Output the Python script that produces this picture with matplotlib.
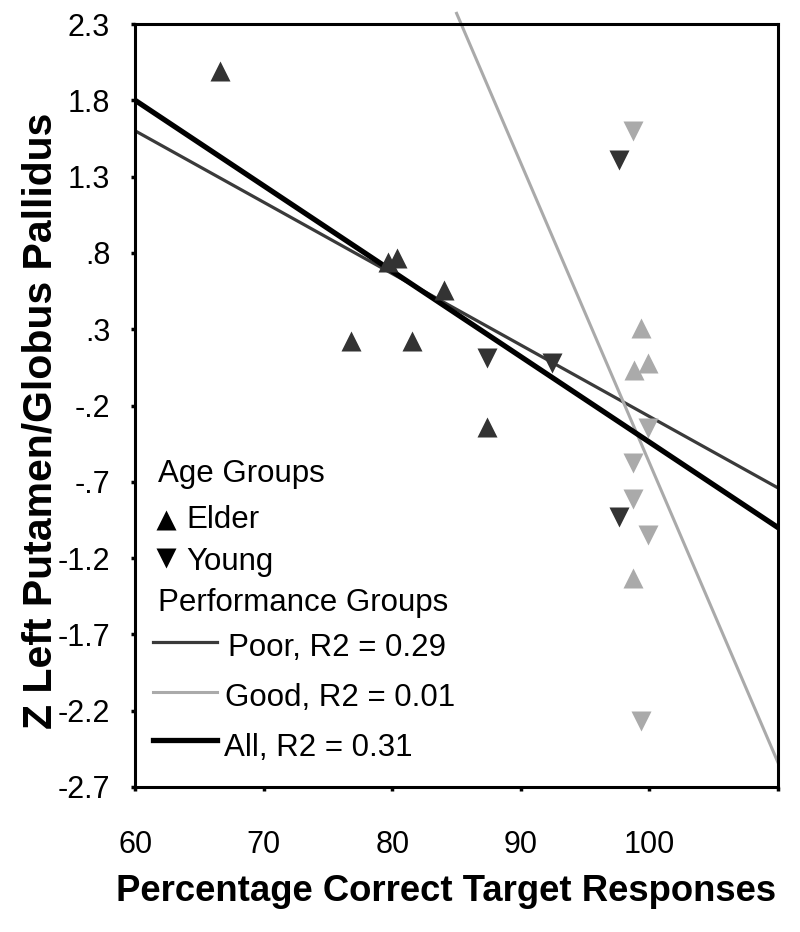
import numpy as np
import matplotlib
matplotlib.use('Agg')
import matplotlib.pyplot as plt

plt.rcParams['font.family'] = ['Liberation Sans', 'DejaVu Sans']

DARK = '#333333'
LIGHT = '#aaaaaa'

# poor performers (dark)
elder_poor_x = [66.6, 79.7, 80.4, 84.0, 76.8, 81.5, 87.4]
elder_poor_y = [1.99, 0.74, 0.77, 0.56, 0.22, 0.22, -0.34]
young_poor_x = [87.4, 92.4, 97.6, 97.6]
young_poor_y = [0.11, 0.08, 1.41, -0.93]

# good performers (light)
elder_good_x = [99.35, 98.8, 99.9, 98.7]
elder_good_y = [0.31, 0.03, 0.08, -1.33]
young_good_x = [98.7, 99.9, 98.7, 98.7, 99.9, 99.35]
young_good_y = [1.60, -0.35, -0.58, -0.81, -1.05, -2.27]

# regression lines (end points)
poor_x = [60, 110]
poor_y = [1.60, -0.74]
good_x = [85.0, 110]
good_y = [2.37, -2.54]
all_x = [60, 110]
all_y = [1.80, -1.00]

y_ticks = [2.3, 1.8, 1.3, 0.8, 0.3, -0.2, -0.7, -1.2, -1.7, -2.2, -2.7]
y_labels = ['2.3', '1.8', '1.3', '.8', '.3', '-.2', '-.7', '-1.2', '-1.7', '-2.2', '-2.7']
x_ticks = [60, 70, 80, 90, 100, 110]
x_labels = ['60', '70', '80', '90', '100', '']

fig = plt.figure(figsize=(8, 9.32), dpi=100)
ax = fig.add_axes([0.169, 0.1556, 0.8035, 0.8186])

ax.plot(poor_x, poor_y, color='#3a3a3a', lw=2.3, zorder=2)
ax.plot(good_x, good_y, color=LIGHT, lw=2.2, zorder=2, clip_on=False)
ax.plot(all_x, all_y, color='black', lw=3.8, zorder=2)

ms = 15
ax.plot(elder_poor_x, elder_poor_y, '^', color=DARK, ms=ms, mec='none', zorder=3)
ax.plot(young_poor_x, young_poor_y, 'v', color=DARK, ms=ms, mec='none', zorder=3)
ax.plot(elder_good_x, elder_good_y, '^', color=LIGHT, ms=ms, mec='none', zorder=3)
ax.plot(young_good_x, young_good_y, 'v', color=LIGHT, ms=ms, mec='none', zorder=3)

ax.set_xlim(60, 110)
ax.set_ylim(-2.7, 2.3)
ax.set_xticks(x_ticks)
ax.set_xticklabels(x_labels)
ax.set_yticks(y_ticks)
ax.set_yticklabels(y_labels)
ax.tick_params(axis='both', direction='out', length=3, width=2.5, labelsize=22)
ax.tick_params(axis='x', pad=28)
ax.tick_params(axis='y', pad=15)
for s in ax.spines.values():
    s.set_linewidth(2.2)


# hand-made legend in axes fraction
def fx(px):
    return (px - 135) / (778 - 135)


def fy(py):
    return (787 - py) / (787 - 24)


ax.set_xlabel('Percentage Correct Target Responses', fontsize=26.3,
              fontweight='bold', va='center')
ax.xaxis.set_label_coords(fx(446), fy(892))
ax.set_ylabel('Z Left Putamen/Globus Pallidus', fontsize=29.5,
              fontweight='bold', va='center')
ax.yaxis.set_label_coords(fx(40), fy(421))

fs = 22.5
t = ax.transAxes
ax.text(fx(158), fy(474), 'Age Groups', transform=t, fontsize=fs, va='center')
ax.plot([fx(166)], [fy(520)], '^', color='black', ms=14, mec='none', transform=t)
ax.text(fx(186), fy(520), 'Elder', transform=t, fontsize=fs, va='center')
ax.plot([fx(166)], [fy(558)], 'v', color='black', ms=14, mec='none', transform=t)
ax.text(fx(186), fy(562), 'Young', transform=t, fontsize=fs, va='center')
ax.text(fx(158), fy(603), 'Performance Groups', transform=t, fontsize=fs, va='center')
ax.plot([fx(153), fx(217)], [fy(642), fy(642)], color='#3a3a3a', lw=2.3, transform=t)
ax.text(fx(228), fy(648), 'Poor, R2 = 0.29', transform=t, fontsize=fs, va='center')
ax.plot([fx(153), fx(217)], [fy(692), fy(692)], color=LIGHT, lw=2.2, transform=t)
ax.text(fx(225), fy(698), 'Good, R2 = 0.01', transform=t, fontsize=fs, va='center')
ax.plot([fx(153), fx(217)], [fy(740), fy(740)], color='black', lw=3.8, transform=t)
ax.text(fx(224), fy(748), 'All, R2 = 0.31', transform=t, fontsize=fs, va='center')

fig.savefig('out.png', dpi=100)
